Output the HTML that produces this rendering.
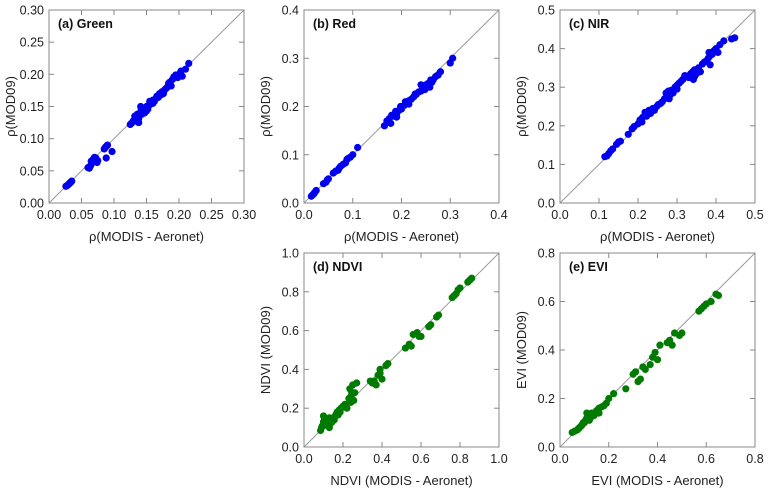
<!DOCTYPE html>
<html><head><meta charset="utf-8"><style>
body{margin:0;background:#fff;}
svg{display:block;font-family:"Liberation Sans",Arial,sans-serif;}
</style></head><body>
<svg id="fig" width="768" height="490" viewBox="0 0 768 490"></svg>
<script>
// Panel (a) Green
const greenX=[0.026,0.028,0.029,0.030,0.031,0.032,0.033,0.034,0.035,0.060,0.062,0.064,0.065,0.066,0.068,0.069,0.070,0.071,0.072,0.074,0.075,0.085,0.087,0.089,0.090,0.088,0.097,0.125,0.127,0.130,0.132,0.134,0.136,0.138,0.140,0.141,0.143,0.145,0.146,0.148,0.150,0.152,0.154,0.155,0.157,0.158,0.160,0.162,0.164,0.166,0.168,0.170,0.172,0.174,0.176,0.178,0.180,0.182,0.184,0.186,0.188,0.190,0.192,0.195,0.198,0.200,0.203,0.205,0.210,0.215,0.138,0.142,0.150,0.160,0.135,0.147];
const greenY=[0.026,0.027,0.028,0.029,0.030,0.031,0.032,0.033,0.034,0.055,0.054,0.058,0.065,0.062,0.068,0.066,0.071,0.064,0.070,0.063,0.066,0.084,0.087,0.089,0.090,0.070,0.080,0.122,0.124,0.128,0.135,0.130,0.138,0.131,0.140,0.150,0.138,0.145,0.142,0.148,0.150,0.146,0.152,0.158,0.154,0.156,0.160,0.158,0.162,0.166,0.164,0.170,0.168,0.173,0.170,0.176,0.178,0.180,0.186,0.188,0.182,0.192,0.196,0.199,0.195,0.200,0.205,0.197,0.208,0.217,0.125,0.146,0.143,0.155,0.127,0.140];
// Panel (b) Red
const redX=[0.015,0.018,0.020,0.022,0.025,0.040,0.045,0.048,0.050,0.060,0.065,0.070,0.072,0.075,0.080,0.085,0.088,0.090,0.095,0.100,0.110,0.165,0.170,0.175,0.178,0.180,0.185,0.188,0.190,0.195,0.198,0.200,0.205,0.208,0.210,0.215,0.220,0.225,0.228,0.230,0.235,0.240,0.245,0.248,0.250,0.255,0.258,0.260,0.265,0.270,0.275,0.280,0.300,0.305,0.190,0.215,0.240,0.262];
const redY=[0.014,0.017,0.019,0.022,0.026,0.040,0.043,0.048,0.050,0.062,0.066,0.068,0.072,0.076,0.080,0.083,0.090,0.092,0.095,0.100,0.115,0.160,0.170,0.175,0.165,0.182,0.180,0.190,0.185,0.192,0.200,0.195,0.202,0.210,0.205,0.212,0.215,0.220,0.226,0.225,0.230,0.232,0.240,0.235,0.245,0.248,0.240,0.255,0.255,0.262,0.265,0.272,0.290,0.300,0.178,0.205,0.245,0.250];
// Panel (c) NIR
const nirX=[0.115,0.120,0.125,0.130,0.135,0.145,0.150,0.155,0.175,0.185,0.190,0.200,0.205,0.210,0.212,0.218,0.222,0.228,0.232,0.238,0.242,0.248,0.252,0.258,0.262,0.268,0.272,0.275,0.278,0.282,0.285,0.290,0.295,0.300,0.305,0.310,0.315,0.320,0.330,0.335,0.340,0.342,0.345,0.350,0.355,0.360,0.365,0.370,0.375,0.380,0.382,0.385,0.390,0.395,0.400,0.405,0.410,0.420,0.440,0.448,0.280,0.300,0.345,0.385];
const nirY=[0.120,0.122,0.128,0.135,0.140,0.152,0.158,0.160,0.178,0.192,0.198,0.205,0.215,0.210,0.222,0.235,0.225,0.240,0.232,0.245,0.240,0.250,0.255,0.258,0.262,0.270,0.285,0.275,0.290,0.280,0.292,0.285,0.300,0.305,0.310,0.315,0.320,0.330,0.325,0.335,0.340,0.320,0.345,0.335,0.350,0.340,0.360,0.365,0.368,0.375,0.390,0.358,0.385,0.395,0.400,0.390,0.410,0.420,0.425,0.428,0.270,0.295,0.328,0.382];
// Panel (d) NDVI
const ndviX=[0.085,0.090,0.095,0.100,0.105,0.110,0.115,0.120,0.125,0.130,0.135,0.140,0.145,0.150,0.155,0.160,0.165,0.170,0.175,0.180,0.185,0.190,0.200,0.210,0.220,0.230,0.235,0.240,0.245,0.250,0.255,0.260,0.270,0.340,0.350,0.360,0.370,0.380,0.390,0.400,0.420,0.430,0.520,0.540,0.550,0.560,0.580,0.590,0.600,0.640,0.650,0.680,0.690,0.760,0.770,0.780,0.790,0.800,0.840,0.850,0.860,0.100,0.130,0.240,0.390];
const ndviY=[0.085,0.100,0.110,0.130,0.150,0.120,0.140,0.110,0.130,0.150,0.120,0.140,0.130,0.150,0.140,0.160,0.170,0.180,0.165,0.190,0.180,0.200,0.210,0.220,0.200,0.250,0.300,0.260,0.280,0.320,0.240,0.280,0.330,0.340,0.330,0.340,0.320,0.370,0.380,0.350,0.420,0.430,0.510,0.530,0.520,0.580,0.590,0.570,0.570,0.620,0.630,0.670,0.680,0.770,0.780,0.790,0.810,0.820,0.850,0.860,0.870,0.160,0.100,0.230,0.400];
// Panel (e) EVI
const eviX=[0.050,0.060,0.070,0.075,0.080,0.085,0.090,0.095,0.100,0.105,0.110,0.115,0.120,0.125,0.130,0.140,0.150,0.160,0.170,0.180,0.190,0.200,0.220,0.270,0.300,0.310,0.320,0.330,0.340,0.350,0.370,0.380,0.390,0.400,0.410,0.440,0.450,0.460,0.470,0.490,0.500,0.570,0.580,0.590,0.600,0.620,0.640,0.650,0.110,0.120,0.160];
const eviY=[0.060,0.065,0.070,0.075,0.080,0.085,0.090,0.100,0.100,0.110,0.120,0.130,0.110,0.120,0.140,0.130,0.150,0.160,0.165,0.170,0.180,0.200,0.220,0.240,0.300,0.310,0.270,0.280,0.330,0.320,0.340,0.370,0.390,0.360,0.420,0.430,0.440,0.420,0.470,0.460,0.470,0.560,0.570,0.580,0.590,0.600,0.630,0.625,0.140,0.130,0.140];

const xTicksA=["0.00","0.05","0.10","0.15","0.20","0.25","0.30"];
const ticks4=["0.0","0.1","0.2","0.3","0.4"];
const ticks5=["0.0","0.1","0.2","0.3","0.4","0.5"];
const ticks10=["0.0","0.2","0.4","0.6","0.8","1.0"];
const ticks08=["0.0","0.2","0.4","0.6","0.8"];

const NS="http://www.w3.org/2000/svg";
const svg=document.getElementById('fig');
function mk(tag,attrs,parent){const e=document.createElementNS(NS,tag);for(const k in attrs)e.setAttribute(k,attrs[k]);(parent||svg).appendChild(e);return e;}

const panels=[
 {id:'a',x0:49,x1:244,y0:10,y1:203,max:0.30,ticks:xTicksA,xs:greenX,ys:greenY,color:'#0000ee',title:'(a) Green',xl:'\u03c1(MODIS - Aeronet)',yl:'\u03c1(MOD09)'},
 {id:'b',x0:304,x1:499,y0:10,y1:203,max:0.4,ticks:ticks4,xs:redX,ys:redY,color:'#0000ee',title:'(b) Red',xl:'\u03c1(MODIS - Aeronet)',yl:'\u03c1(MOD09)'},
 {id:'c',x0:560,x1:755,y0:10,y1:203,max:0.5,ticks:ticks5,xs:nirX,ys:nirY,color:'#0000ee',title:'(c) NIR',xl:'\u03c1(MODIS - Aeronet)',yl:'\u03c1(MOD09)'},
 {id:'d',x0:304,x1:499,y0:253,y1:447,max:1.0,ticks:ticks10,xs:ndviX,ys:ndviY,color:'#007a00',title:'(d) NDVI',xl:'NDVI (MODIS - Aeronet)',yl:'NDVI (MOD09)'},
 {id:'e',x0:560,x1:755,y0:253,y1:447,max:0.8,ticks:ticks08,xs:eviX,ys:eviY,color:'#007a00',title:'(e) EVI',xl:'EVI (MODIS - Aeronet)',yl:'EVI (MOD09)'}
];

panels.forEach(p=>{
 const g=mk('g',{});
 
 
 const sx=v=>p.x0+(v/p.max)*(p.x1-p.x0);
 const sy=v=>p.y1-(v/p.max)*(p.y1-p.y0);
 const diag=mk('line',{x1:sx(0),y1:sy(0),x2:sx(p.max),y2:sy(p.max),stroke:'#999','stroke-width':1},g);
 
 
 const n=p.ticks.length;
 p.ticks.forEach((t,i)=>{
  const v=p.max*i/(n-1);
  const X=sx(v),Y=sy(v);
  mk('line',{x1:X,y1:p.y1,x2:X,y2:p.y1-5,stroke:'#888'},g);
  mk('line',{x1:X,y1:p.y0,x2:X,y2:p.y0+5,stroke:'#888'},g);
  mk('line',{x1:p.x0,y1:Y,x2:p.x0+5,y2:Y,stroke:'#888'},g);
  mk('line',{x1:p.x1,y1:Y,x2:p.x1-5,y2:Y,stroke:'#888'},g);
  const tx=mk('text',{x:X,y:p.y1+16,'font-size':12.5,'text-anchor':'middle',fill:'#222'},g);
  tx.textContent=t;
  
  
  const ty=mk('text',{x:p.x0-5,y:Y+4.5,'font-size':12.5,'text-anchor':'end',fill:'#222'},g);
  ty.textContent=t;
  
  
 });
 p.xs.forEach((xv,i)=>{
  const c=mk('circle',{cx:sx(xv),cy:sy(p.ys[i]),r:3.6,fill:p.color},g);
  
  
 });
 const fr=mk('rect',{x:p.x0,y:p.y0,width:p.x1-p.x0,height:p.y1-p.y0,fill:'none',stroke:'#888','stroke-width':1},g);
 
 
 const ti=mk('text',{x:p.x0+9,y:p.y0+18,'font-size':12.5,'font-weight':'bold',fill:'#111'},g);
 ti.textContent=p.title;
 
 
 const xl=mk('text',{x:(p.x0+p.x1)/2,y:p.y1+38,'font-size':13,'text-anchor':'middle',fill:'#222'},g);
 xl.textContent=p.xl;
 
 
 const yx=p.x0-34, yy=(p.y0+p.y1)/2;
 const yl=mk('text',{x:yx,y:yy,'font-size':13,'text-anchor':'middle',fill:'#222',transform:`rotate(-90 ${yx} ${yy})`},g);
 yl.textContent=p.yl;
 
 
});
</script>
</body></html>
